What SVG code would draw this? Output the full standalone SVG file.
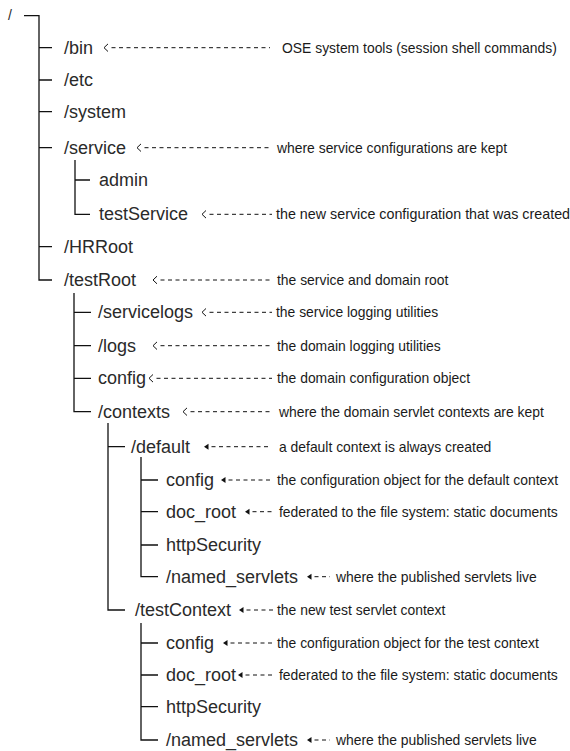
<svg xmlns="http://www.w3.org/2000/svg" width="570" height="751" viewBox="0 0 570 751">
  <style>
    .lbl { font-family: "Liberation Sans", Arial, sans-serif; font-size: 18px; fill: #2a2a2a; }
    .root { font-family: "Liberation Sans", Arial, sans-serif; font-size: 14px; fill: #2a2a2a; }
    .note { font-family: "Liberation Sans", Arial, sans-serif; font-size: 13.9px; fill: #1a1a1a; }
    .tree { fill: none; stroke: #111; stroke-width: 1.3; }
    .lead { fill: none; stroke: #111; stroke-width: 1; stroke-dasharray: 4 3.5; }
    .open { marker-start: url(#chev); }
    .solid { marker-start: url(#tri); }
  </style>
  <defs>
    <!-- open chevron head, vertex 7.5px left of where the dashes begin -->
    <marker id="chev" markerUnits="userSpaceOnUse" orient="0" overflow="visible" markerWidth="12" markerHeight="10" refX="0" refY="0">
      <path d="M-3.5,-3.8 L-7.5,0 L-3.5,3.8" fill="none" stroke="#111" stroke-width="1"/>
    </marker>
    <!-- small filled head -->
    <marker id="tri" markerUnits="userSpaceOnUse" orient="0" overflow="visible" markerWidth="12" markerHeight="10" refX="0" refY="0">
      <path d="M-3,-3 L-7.5,0 L-3,3 Z" fill="#111"/>
    </marker>
  </defs>

  <rect width="570" height="751" fill="#fff"/>

  <g id="connectors">
    <!-- tree branches -->
    <path class="tree" d="M24,15.7 H39 V280 H52 M39,47.7 H52 M39,80 H52 M39,111.7 H52 M39,147.7 H52 M39,246.7 H52"/>
    <path class="tree" d="M75,160 V214.3 H90 M75,180 H90"/>
    <path class="tree" d="M74,293 V411.7 H91 M74,312.3 H91 M74,345.7 H91 M74,378.3 H91"/>
    <path class="tree" d="M108,423 V610 H125 M108,446.7 H125"/>
    <path class="tree" d="M141,457 V576.7 H158 M141,480 H158 M141,511.7 H158 M141,545 H158"/>
    <path class="tree" d="M141,623 V740 H158 M141,643 H158 M141,675 H158 M141,706.7 H158"/>

    <!-- annotation leaders -->
    <path class="lead open" d="M111.5,47.7 H270"/>
    <path class="lead open" d="M144.5,147.7 H272"/>
    <path class="lead open" d="M209.5,214.3 H272"/>
    <path class="lead open" d="M160.5,280 H272"/>
    <path class="lead open" d="M209.5,312.3 H272"/>
    <path class="lead open" d="M160.5,345.7 H272"/>
    <path class="lead open" d="M156.5,378.3 H272"/>
    <path class="lead open" d="M190.5,411.7 H272"/>
    <path class="lead solid" d="M211.5,446.7 H270"/>
    <path class="lead solid" d="M228.5,480 H273"/>
    <path class="lead solid" d="M252.5,511.7 H273"/>
    <path class="lead solid" d="M314.5,576.7 H330"/>
    <path class="lead solid" d="M246.5,610 H273"/>
    <path class="lead solid" d="M230.5,643 H273"/>
    <path class="lead solid" d="M245.5,675 H273"/>
    <path class="lead solid" d="M314.5,740 H330"/>
  </g>

  <g id="n-root"><text class="root" x="8" y="20">/</text></g>

  <g id="n-bin">
    <text class="lbl" x="64" y="53.7">/bin</text>
    <text class="note" x="282" y="52.7">OSE system tools (session shell commands)</text>
  </g>
  <g id="n-etc"><text class="lbl" x="64" y="86">/etc</text></g>
  <g id="n-system"><text class="lbl" x="64" y="117.7">/system</text></g>
  <g id="n-service">
    <text class="lbl" x="64" y="153.7">/service</text>
    <text class="note" x="277" y="152.7">where service configurations are kept</text>
  </g>
  <g id="n-admin"><text class="lbl" x="99" y="186">admin</text></g>
  <g id="n-testService">
    <text class="lbl" x="99" y="220.3">testService</text>
    <text class="note" x="276" y="219.3" style="font-size:14.3px">the new service configuration that was created</text>
  </g>
  <g id="n-HRRoot"><text class="lbl" x="64" y="252.7">/HRRoot</text></g>
  <g id="n-testRoot">
    <text class="lbl" x="64" y="286">/testRoot</text>
    <text class="note" x="277" y="285">the service and domain root</text>
  </g>
  <g id="n-servicelogs">
    <text class="lbl" x="98" y="318.3">/servicelogs</text>
    <text class="note" x="276" y="317.3">the service logging utilities</text>
  </g>
  <g id="n-logs">
    <text class="lbl" x="98" y="351.7">/logs</text>
    <text class="note" x="277" y="350.7">the domain logging utilities</text>
  </g>
  <g id="n-config">
    <text class="lbl" x="98" y="384.3">config</text>
    <text class="note" x="277" y="383.3">the domain configuration object</text>
  </g>
  <g id="n-contexts">
    <text class="lbl" x="98" y="417.7">/contexts</text>
    <text class="note" x="279" y="416.7">where the domain servlet contexts are kept</text>
  </g>

  <g id="n-default">
    <text class="lbl" x="131" y="452.7">/default</text>
    <text class="note" x="279" y="451.7">a default context is always created</text>
  </g>
  <g id="n-default-config">
    <text class="lbl" x="166" y="486">config</text>
    <text class="note" x="277" y="485">the configuration object for the default context</text>
  </g>
  <g id="n-default-doc_root">
    <text class="lbl" x="166" y="517.7">doc_root</text>
    <text class="note" x="279" y="516.7">federated to the file system: static documents</text>
  </g>
  <g id="n-default-httpSecurity"><text class="lbl" x="166" y="551">httpSecurity</text></g>
  <g id="n-default-named_servlets">
    <text class="lbl" x="166" y="582.7">/named_servlets</text>
    <text class="note" x="336" y="581.7">where the published servlets live</text>
  </g>

  <g id="n-testContext">
    <text class="lbl" x="135" y="616">/testContext</text>
    <text class="note" x="277" y="615">the new test servlet context</text>
  </g>
  <g id="n-test-config">
    <text class="lbl" x="166" y="649">config</text>
    <text class="note" x="277" y="648">the configuration object for the test context</text>
  </g>
  <g id="n-test-doc_root">
    <text class="lbl" x="166" y="681">doc_root</text>
    <text class="note" x="279" y="680">federated to the file system: static documents</text>
  </g>
  <g id="n-test-httpSecurity"><text class="lbl" x="166" y="712.7">httpSecurity</text></g>
  <g id="n-test-named_servlets">
    <text class="lbl" x="166" y="746">/named_servlets</text>
    <text class="note" x="336" y="745">where the published servlets live</text>
  </g>
</svg>
